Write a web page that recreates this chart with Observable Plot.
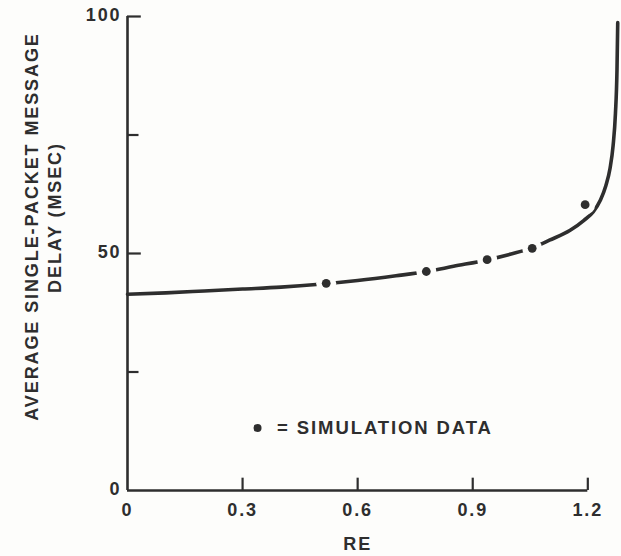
<!DOCTYPE html>
<html>
<head>
<meta charset="utf-8">
<script src="https://cdn.jsdelivr.net/npm/d3@7"></script>
<script src="https://cdn.jsdelivr.net/npm/@observablehq/plot@0.6"></script>
<style>
  html, body { margin: 0; padding: 0; background: #fdfdfb; }
  #chart svg { display: block; }
  #chart svg text { letter-spacing: 1.9px; }
</style>
</head>
<body>
<div id="chart"></div>
<script>
// Model curve
const curveRE    = [0, 0.1, 0.2, 0.3, 0.4, 0.5, 0.6, 0.7, 0.78, 0.85, 0.94, 1.0, 1.055, 1.1, 1.154, 1.19, 1.214, 1.233, 1.247, 1.258, 1.266, 1.272, 1.276, 1.278];
const curveDelay = [41.4, 41.7, 42.1, 42.5, 42.9, 43.5, 44.3, 45.3, 46.2, 47.3, 48.7, 49.9, 51.2, 52.8, 54.9, 57.0, 58.8, 61.3, 64.3, 68.0, 72.8, 79.5, 88.5, 98.7];

// Simulation data points
const simRE    = [0.518, 0.779, 0.9375, 1.055, 1.193];
const simDelay = [43.7, 46.2, 48.7, 51.1, 60.3];

// Axis ticks and labels
const xTicks = [0, 0.3, 0.6, 0.9, 1.2];
const xTickLabels = ["0", "0.3", "0.6", "0.9", "1.2"];
const yMajorTicks = [0, 50, 100];
const yTickLabels = ["0", "50", "100"];
const yMinorTicks = [25, 75];
const xLabel = "RE";
const yLabelLine1 = "AVERAGE SINGLE-PACKET MESSAGE";
const yLabelLine2 = "DELAY (MSEC)";
const legendLabel = "= SIMULATION DATA";

const curve = curveRE.map((x, i) => ({x, y: curveDelay[i]}));
const sim = simRE.map((x, i) => ({x, y: simDelay[i]}));
const ink = "#2e2e2e";
const paper = "#fdfdfb";
const font = "'Liberation Sans', Arial, sans-serif";

const chart = Plot.plot({
  width: 621,
  height: 556,
  marginLeft: 127,
  marginRight: 3,
  marginTop: 16,
  marginBottom: 66,
  x: {domain: [0, 1.28], axis: null},
  y: {domain: [0, 100], axis: null},
  style: {background: paper, color: ink, fontFamily: font},
  marks: [
    // axis lines
    Plot.ruleX([0], {y1: 0, y2: 100, stroke: ink, strokeWidth: 2.6}),
    Plot.ruleY([0], {x1: 0, x2: 1.2, stroke: ink, strokeWidth: 2.6}),
    // inward ticks
    Plot.ruleX(xTicks.filter(d => d > 0), {x: d => d, y1: 0, y2: 2.6, stroke: ink, strokeWidth: 2.2}),
    Plot.ruleY(yMajorTicks.filter(d => d > 0), {y: d => d, x1: 0, x2: 0.036, stroke: ink, strokeWidth: 2.2}),
    Plot.ruleY(yMinorTicks, {y: d => d, x1: 0, x2: 0.03, stroke: ink, strokeWidth: 2.2}),
    // tick labels
    Plot.text(xTicks, {x: d => d, y: 0, text: (d, i) => xTickLabels[i], dy: 20, fontSize: 18, fontWeight: "bold", fill: ink}),
    Plot.text(yMajorTicks, {x: 0, y: d => d, text: (d, i) => yTickLabels[i], dx: -6, dy: -1, textAnchor: "end", fontSize: 18, fontWeight: "bold", fill: ink}),
    // axis titles
    Plot.text([xLabel], {x: 0.6, y: 0, text: d => d, dy: 54, fontSize: 18, fontWeight: "bold", fill: ink}),
    Plot.text([yLabelLine1], {x: 0, y: 50, text: d => d, rotate: -90, dx: -95, dy: -27, fontSize: 18, fontWeight: "bold", fill: ink}),
    Plot.text([yLabelLine2], {x: 0, y: 50, text: d => d, rotate: -90, dx: -72, dy: -36, fontSize: 18, fontWeight: "bold", fill: ink}),
    // model curve
    Plot.line(curve, {x: "x", y: "y", curve: "monotone-x", stroke: ink, strokeWidth: 3.6}),
    // simulation points with gap in line
    Plot.dot(sim, {x: "x", y: "y", r: 10, fill: paper, stroke: "none"}),
    Plot.dot(sim, {x: "x", y: "y", r: 4.4, fill: ink, stroke: "none"}),
    // legend
    Plot.dot([0], {x: 0.339, y: 13.2, r: 4, fill: ink, stroke: "none"}),
    Plot.text([legendLabel], {x: 0.39, y: 13.2, text: d => d, textAnchor: "start", fontSize: 18.5, fontWeight: "bold", fill: ink})
  ]
});
document.getElementById("chart").append(chart);
</script>
</body>
</html>
